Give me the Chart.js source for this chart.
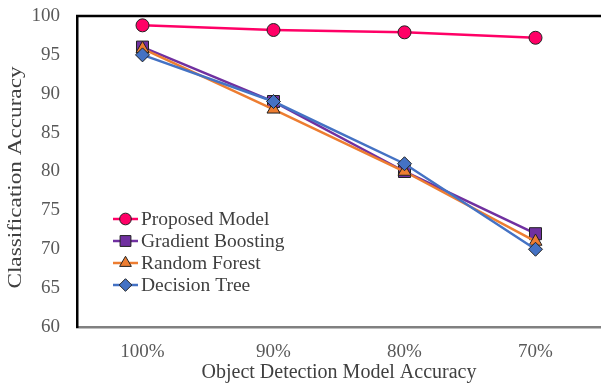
<!DOCTYPE html>
<html>
<head>
<meta charset="utf-8">
<script src="https://cdn.jsdelivr.net/npm/chart.js@4.4.1/dist/chart.umd.min.js"></script>
<style>
html,body{margin:0;padding:0;background:#fff;}
#wrap{width:601px;height:385px;position:relative;}
</style>
</head>
<body>
<div id="wrap"><canvas id="c" width="601" height="385"></canvas></div>
<script>
const categories = ['100%', '90%', '80%', '70%'];
const proposedModel = [98.8, 98.2, 97.9, 97.2];
const gradientBoosting = [96, 89, 80, 72];
const randomForest = [95.8, 88, 80, 71];
const decisionTree = [95, 89, 81, 70];
const yTicks = [60, 65, 70, 75, 80, 85, 90, 95, 100];
const seriesNames = ['Proposed Model', 'Gradient Boosting', 'Random Forest', 'Decision Tree'];
const xTitle = 'Object Detection Model Accuracy';
const yTitle = 'Classification Accuracy';

const FONT = "'Liberation Serif', 'Times New Roman', serif";
const styles = [
  {color:'#FF0066', point:'circle', r:6.5, order:0},
  {color:'#7030A0', point:'rect', r:8.5, order:3},
  {color:'#ED7D31', point:'triangle', r:7.5, order:2},
  {color:'#4472C4', point:'rectRot', r:7, order:1}
];
const seriesData = [proposedModel, gradientBoosting, randomForest, decisionTree];

const datasets = seriesData.map((d, i) => ({
  label: seriesNames[i],
  data: d,
  borderColor: styles[i].color,
  backgroundColor: styles[i].color,
  pointBackgroundColor: styles[i].color,
  pointBorderColor: '#222',
  pointBorderWidth: 1,
  pointStyle: styles[i].point,
  pointRadius: styles[i].r,
  borderWidth: 2.5,
  tension: 0,
  clip: false,
  order: styles[i].order
}));

function drawMarker(ctx, style, x, y, r) {
  ctx.beginPath();
  if (style === 'circle') {
    ctx.arc(x, y, r, 0, Math.PI * 2);
  } else if (style === 'rect') {
    const s = r * Math.SQRT1_2;
    ctx.rect(x - s, y - s, 2 * s, 2 * s);
  } else if (style === 'triangle') {
    for (let k = 0; k < 3; k++) {
      const a = -Math.PI / 2 + k * 2 * Math.PI / 3;
      const px = x + Math.cos(a) * r, py = y + Math.sin(a) * r;
      if (k === 0) ctx.moveTo(px, py); else ctx.lineTo(px, py);
    }
    ctx.closePath();
  } else if (style === 'rectRot') {
    ctx.moveTo(x, y - r); ctx.lineTo(x + r, y); ctx.lineTo(x, y + r); ctx.lineTo(x - r, y); ctx.closePath();
  }
  ctx.fill();
  ctx.stroke();
}

const framePlugin = {
  id: 'frame',
  afterDraw(chart) {
    const ctx = chart.ctx;
    const a = chart.chartArea;
    ctx.save();
    ctx.strokeStyle = '#000';
    ctx.lineWidth = 2.5;
    ctx.beginPath();
    ctx.moveTo(a.left - 1, a.top);
    ctx.lineTo(a.right, a.top);
    ctx.stroke();
    // y-axis title (stretched like the original)
    ctx.save();
    ctx.translate(16, (a.top + a.bottom) / 2 + 6);
    ctx.rotate(-Math.PI / 2);
    ctx.scale(1.22, 1);
    ctx.font = '19px ' + FONT;
    ctx.fillStyle = '#404040';
    ctx.textAlign = 'center';
    ctx.textBaseline = 'middle';
    ctx.fillText(yTitle, 0, 0);
    ctx.restore();
    // legend
    const lx0 = 113, lx1 = 138, tx = 141;
    const rows = [219, 241, 263, 285];
    ctx.font = '19.5px ' + FONT;
    ctx.textBaseline = 'middle';
    ctx.textAlign = 'left';
    chart.data.datasets.forEach((ds, i) => {
      const y = rows[i];
      ctx.strokeStyle = ds.borderColor;
      ctx.lineWidth = 2.5;
      ctx.beginPath(); ctx.moveTo(lx0, y); ctx.lineTo(lx1, y); ctx.stroke();
      ctx.fillStyle = ds.borderColor;
      ctx.strokeStyle = '#222';
      ctx.lineWidth = 1;
      drawMarker(ctx, ds.pointStyle, (lx0 + lx1) / 2, y, ds.pointRadius * 0.9);
      ctx.fillStyle = '#404040';
      ctx.fillText(ds.label, tx, y + 1);
    });
    ctx.restore();
  }
};

new Chart(document.getElementById('c'), {
  type: 'line',
  data: { labels: categories, datasets: datasets },
  plugins: [framePlugin],
  options: {
    responsive: false,
    animation: false,
    layout: { autoPadding: false, padding: { top: 16, right: 0, left: 0, bottom: 0 } },
    plugins: { legend: { display: false }, tooltip: { enabled: false } },
    scales: {
      x: {
        offset: true,
        grid: { display: false, drawTicks: false },
        border: { display: true, color: '#808080', width: 2.5 },
        ticks: { color: '#595959', font: { family: FONT, size: 19 }, padding: 14 },
        title: { display: true, text: xTitle, color: '#404040', font: { family: FONT, size: 20 }, padding: { top: 0, bottom: 0 } },
        afterFit(s) { s.height = 58; s.paddingLeft = 0; s.paddingRight = 0; }
      },
      y: {
        min: 60, max: 100,
        afterBuildTicks(s) { s.ticks = yTicks.map(v => ({ value: v })); },
        grid: { display: false, drawTicks: false },
        border: { display: true, color: '#000', width: 2.5 },
        ticks: { color: '#595959', font: { family: FONT, size: 19 }, padding: 17 },
        title: { display: false },
        afterFit(s) { s.width = 77; s.paddingTop = 0; s.paddingBottom = 0; }
      }
    }
  }
});
</script>
</body>
</html>
